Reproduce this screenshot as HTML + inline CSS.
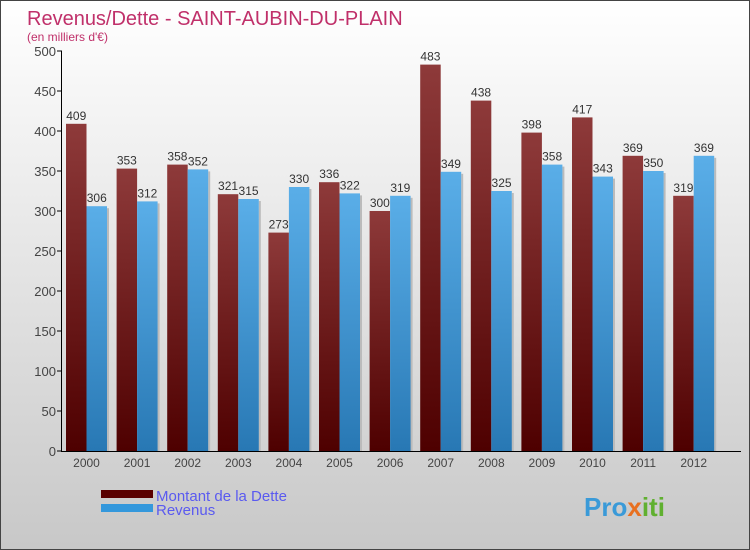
<!DOCTYPE html>
<html><head><meta charset="utf-8"><style>
body{margin:0}
#c{width:750px;height:550px;position:relative;overflow:hidden;box-sizing:border-box;border:1px solid #444;background:linear-gradient(#fff,#c8c8c8);font-family:"Liberation Sans",sans-serif}
</style></head><body>
<div id="c">
<svg width="750" height="550" style="position:absolute;left:0;top:0">
<defs>
<linearGradient id="gd" x1="0" y1="0" x2="0" y2="1"><stop offset="0" stop-color="#8e3a3a"/><stop offset="1" stop-color="#4e0000"/></linearGradient>
<linearGradient id="gr" x1="0" y1="0" x2="0" y2="1"><stop offset="0" stop-color="#5aaee8"/><stop offset="1" stop-color="#2878b4"/></linearGradient>
</defs>
<text x="26" y="24" font-size="20" fill="#c0306a">Revenus/Dette - SAINT-AUBIN-DU-PLAIN</text>
<text x="26" y="40" font-size="12" fill="#c0306a">(en milliers d'€)</text>
<g id="ax"></g>
<g id="bars"></g>
<rect x="100" y="489" width="52" height="8" fill="#5a0000"/>
<rect x="100" y="503" width="52" height="8" fill="#3498dc"/>
<text x="155" y="500" font-size="15" fill="#5a5af0">Montant de la Dette</text>
<text x="155" y="514" font-size="15" fill="#5a5af0">Revenus</text>
<text x="583" y="515" font-size="26" font-weight="bold" fill="#3a9ad8">Pro<tspan fill="#e87020">x</tspan><tspan fill="#60b030">iti</tspan></text>
</svg>
</div>
<script>
const years=["2000","2001","2002","2003","2004","2005","2006","2007","2008","2009","2010","2011","2012"];
const dette=[409,353,358,321,273,336,300,483,438,398,417,369,319];
const revenus=[306,312,352,315,330,322,319,349,325,358,343,350,369];
const ticks=[0,50,100,150,200,250,300,350,400,450,500];
const NS="http://www.w3.org/2000/svg";
const y=v=>450-v*0.8, gx=i=>65+i*50.6, bw=20.5;
function mk(t,a,p){const e=document.createElementNS(NS,t);for(const k in a)e.setAttribute(k,a[k]);p.appendChild(e);return e;}
const ax=document.getElementById('ax'),bars=document.getElementById('bars');
ticks.forEach(t=>{
 const l=mk('line',{x1:56,x2:61,y1:y(t),y2:y(t),stroke:'#000'},ax);
 
 
 const tx=mk('text',{x:55,y:y(t)+5,'font-size':13,fill:'#444','text-anchor':'end'},ax);tx.textContent=t;
 
 
});
const ya=mk('line',{x1:60.5,x2:60.5,y1:50,y2:450,stroke:'#000'},ax);


const xa=mk('line',{x1:60,x2:740,y1:450.5,y2:450.5,stroke:'#000'},ax);


years.forEach((yr,i)=>{
 const x0=gx(i);
 const sh=mk('rect',{x:x0+2*bw,y:y(revenus[i])+2,width:2,height:450-y(revenus[i])-2,fill:'#bbb'},bars);
 
 
 const d=mk('rect',{x:x0,y:y(dette[i]),width:bw,height:450-y(dette[i]),fill:'url(#gd)'},bars);
 
 
 const r=mk('rect',{x:x0+bw,y:y(revenus[i]),width:bw,height:450-y(revenus[i]),fill:'url(#gr)'},bars);
 
 
 const td=mk('text',{x:x0+bw/2,y:y(dette[i])-4,'font-size':12,fill:'#333','text-anchor':'middle'},bars);td.textContent=dette[i];
 
 
 const tr=mk('text',{x:x0+bw*1.5,y:y(revenus[i])-4,'font-size':12,fill:'#333','text-anchor':'middle'},bars);tr.textContent=revenus[i];
 
 
 const xl=mk('text',{x:x0+bw,y:466,'font-size':12,fill:'#444','text-anchor':'middle'},bars);xl.textContent=yr;
 
 
});
</script>
</body></html>
